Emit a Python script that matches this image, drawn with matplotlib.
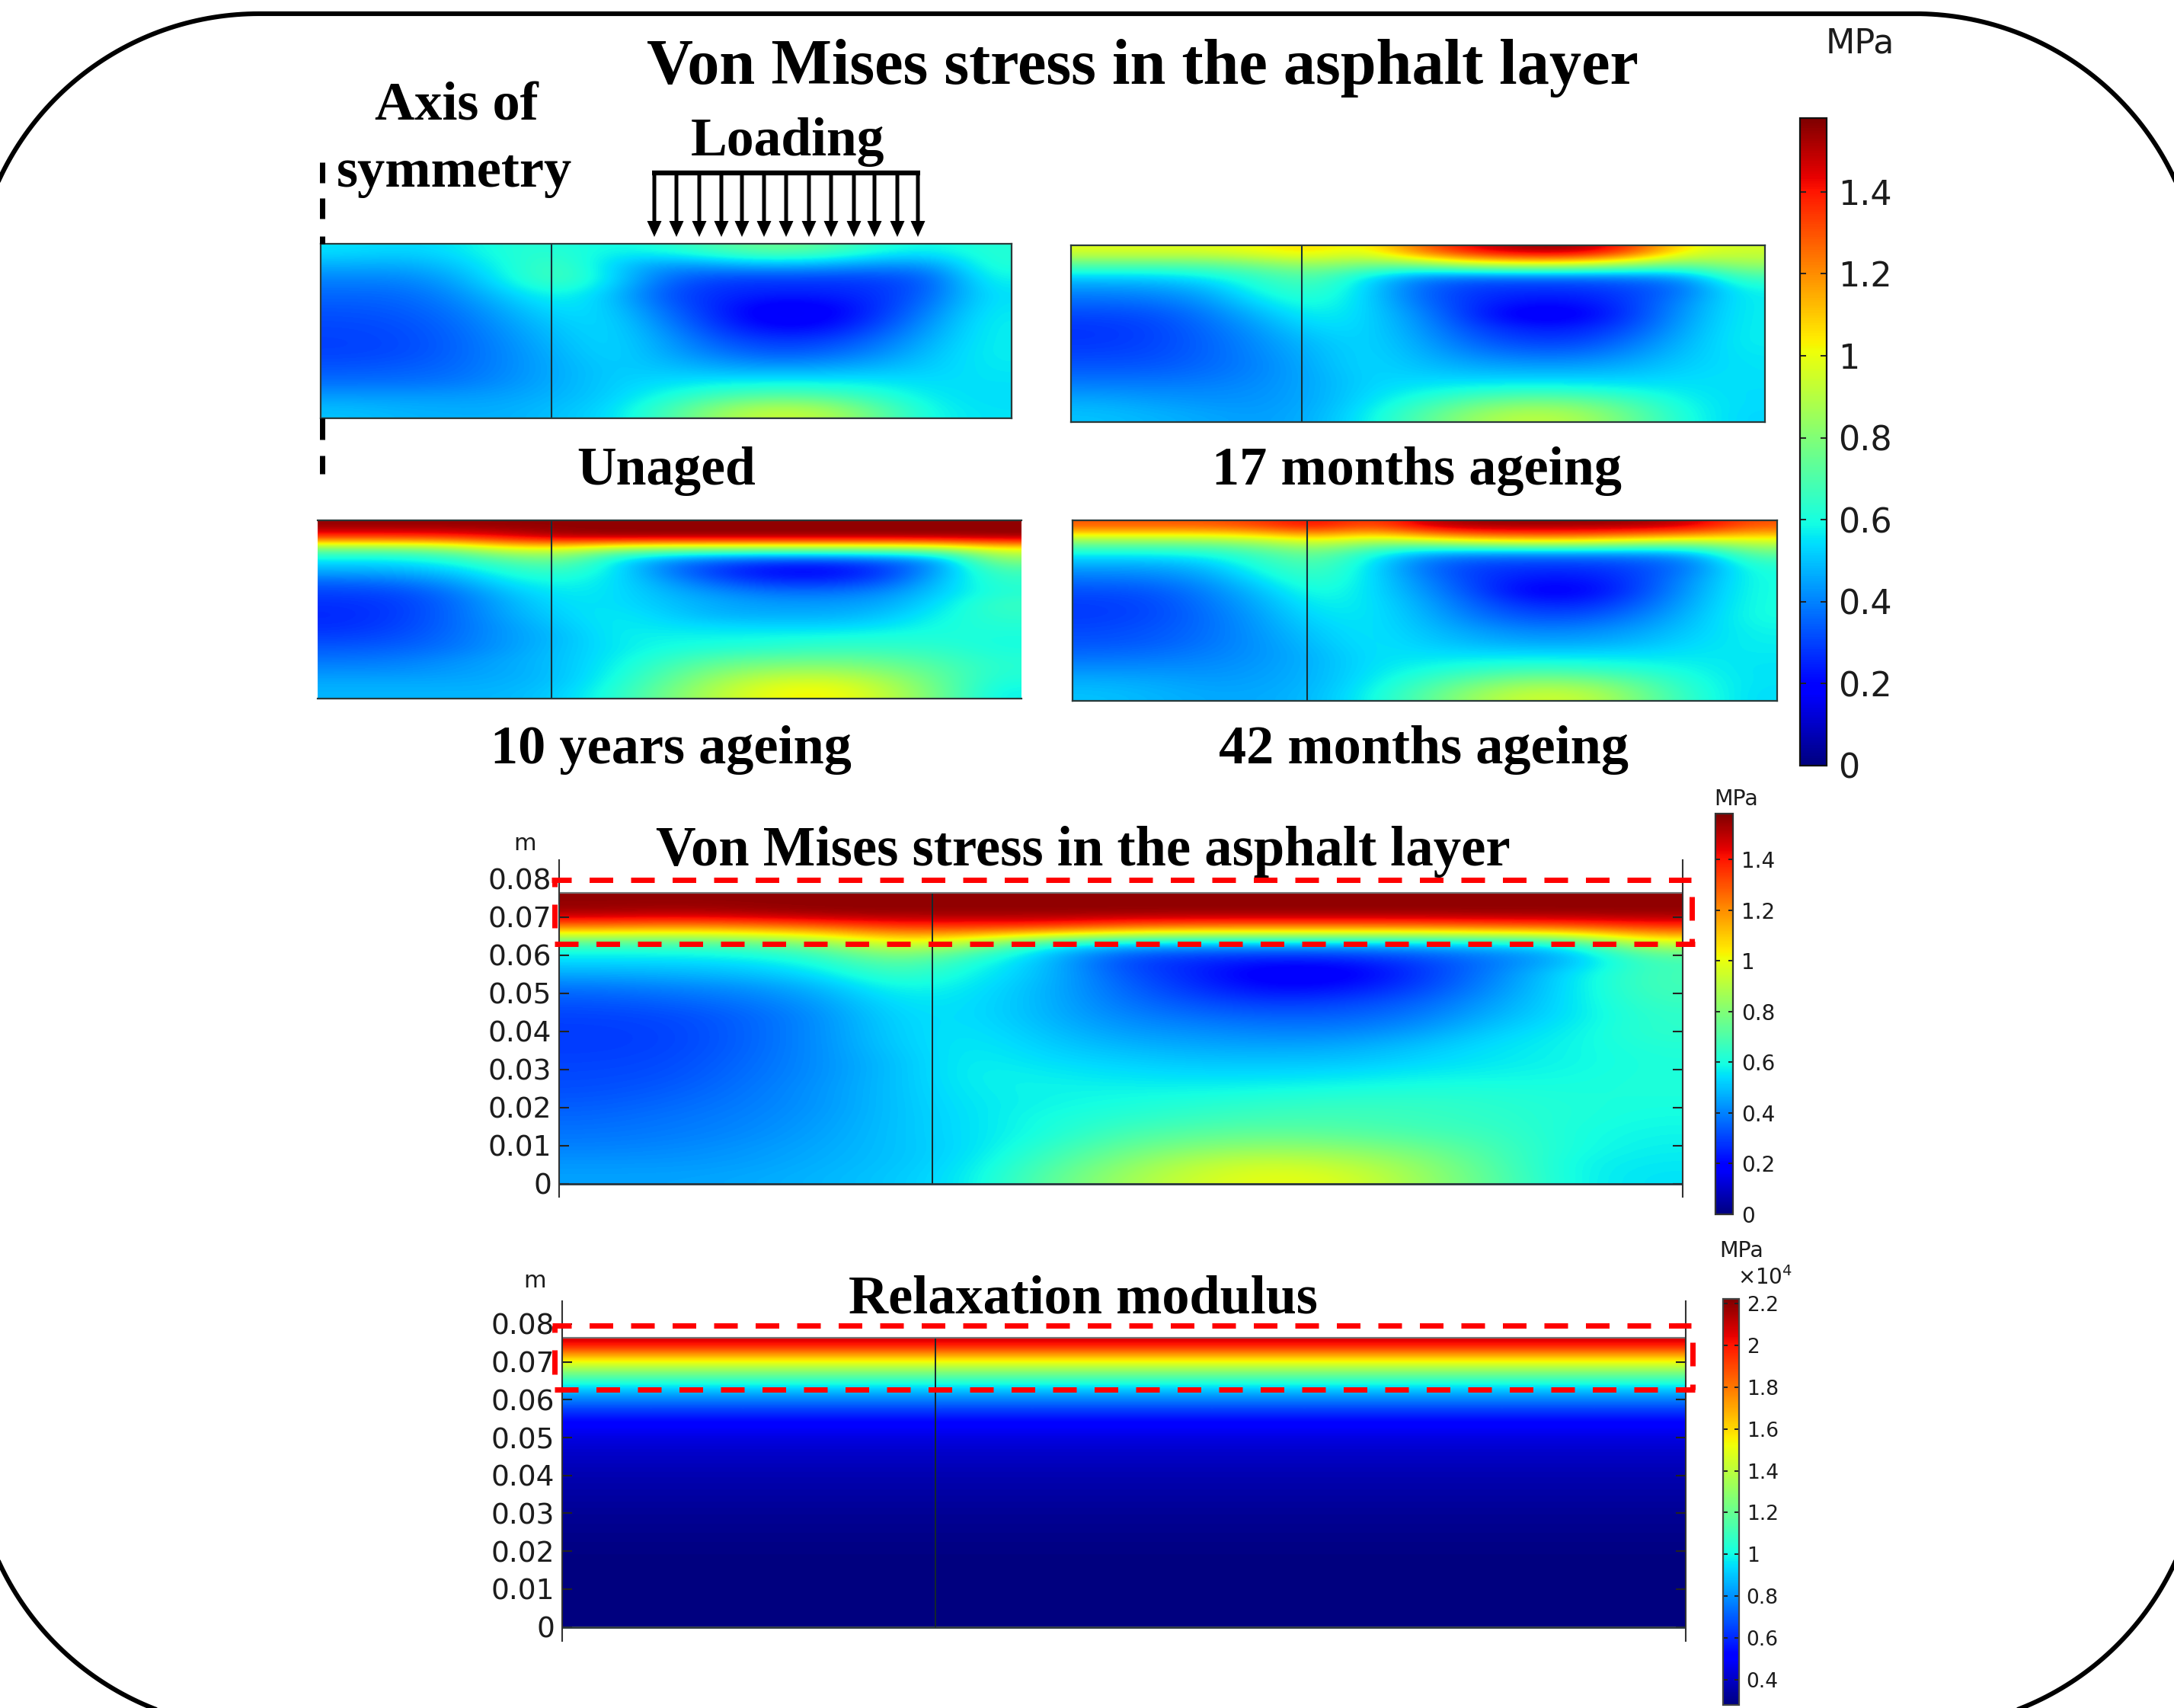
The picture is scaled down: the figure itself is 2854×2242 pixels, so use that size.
import numpy as np
import matplotlib
matplotlib.use("Agg")
import matplotlib.pyplot as plt
from matplotlib.cm import ScalarMappable
from matplotlib.colors import Normalize

W, H = 2854, 2242

# stress fields, MPa, top row first
unaged = [
    [.55, .53, .55, .62, .62, .58, .62, .70, .76, .72, .62, .58, .62],
    [.47, .46, .50, .60, .68, .52, .42, .45, .48, .46, .42, .42, .62],
    [.40, .40, .45, .58, .70, .54, .36, .29, .28, .28, .29, .34, .58],
    [.36, .36, .41, .52, .60, .50, .32, .26, .25, .25, .27, .36, .55],
    [.33, .34, .38, .47, .56, .52, .36, .25, .15, .17, .27, .40, .56],
    [.31, .32, .36, .44, .52, .54, .40, .27, .17, .19, .30, .44, .57],
    [.30, .31, .35, .42, .50, .54, .44, .32, .27, .28, .36, .47, .57],
    [.30, .31, .35, .41, .48, .54, .46, .38, .33, .35, .41, .50, .57],
    [.33, .34, .36, .41, .47, .52, .50, .46, .44, .45, .48, .52, .56],
    [.37, .37, .38, .42, .47, .52, .54, .56, .57, .57, .56, .54, .55],
    [.44, .44, .44, .45, .48, .52, .60, .68, .72, .70, .63, .56, .54],
    [.50, .48, .47, .47, .50, .54, .68, .85, .94, .90, .74, .58, .55],
]
months17 = [
    [.98, .98, .98, 1.02, 1.08, .98, 1.25, 1.45, 1.55, 1.55, 1.35, 1.02, .95],
    [.72, .72, .72, .78, .85, .78, .80, .92, .96, .94, .85, .76, .85],
    [.52, .52, .56, .64, .72, .56, .40, .36, .36, .36, .38, .42, .68],
    [.42, .43, .47, .60, .66, .54, .36, .28, .27, .27, .30, .37, .58],
    [.36, .37, .42, .54, .62, .54, .38, .27, .22, .22, .29, .42, .57],
    [.31, .32, .38, .48, .58, .54, .42, .27, .15, .17, .29, .44, .57],
    [.28, .30, .36, .44, .54, .54, .44, .31, .24, .24, .32, .46, .57],
    [.28, .30, .35, .42, .50, .54, .46, .35, .29, .29, .37, .48, .57],
    [.30, .31, .35, .41, .48, .54, .48, .40, .36, .36, .42, .50, .56],
    [.33, .33, .36, .40, .47, .54, .50, .46, .44, .44, .47, .52, .55],
    [.37, .37, .38, .41, .46, .53, .53, .52, .52, .52, .52, .54, .55],
    [.42, .41, .41, .42, .46, .53, .57, .61, .63, .62, .59, .56, .54],
    [.47, .45, .43, .43, .46, .54, .64, .74, .80, .78, .69, .58, .54],
    [.50, .48, .46, .44, .47, .56, .70, .84, .92, .88, .75, .60, .53],
]
months42 = [
    [1.30, 1.30, 1.30, 1.35, 1.45, 1.30, 1.50, 1.56, 1.56, 1.56, 1.55, 1.48, 1.30],
    [.85, .85, .85, .90, 1.00, .90, .98, 1.08, 1.12, 1.10, 1.02, .98, .98],
    [.58, .58, .60, .68, .78, .60, .45, .42, .42, .42, .42, .46, .75],
    [.46, .46, .50, .62, .70, .55, .36, .29, .28, .28, .31, .39, .62],
    [.38, .39, .44, .56, .66, .55, .40, .28, .23, .23, .30, .44, .60],
    [.32, .33, .40, .50, .62, .55, .43, .30, .17, .19, .31, .46, .60],
    [.29, .31, .38, .47, .58, .56, .46, .34, .26, .26, .35, .48, .60],
    [.29, .31, .37, .45, .55, .56, .48, .38, .32, .33, .40, .50, .60],
    [.31, .33, .37, .44, .52, .56, .50, .44, .40, .41, .45, .52, .58],
    [.33, .34, .38, .43, .50, .56, .52, .48, .46, .46, .49, .54, .57],
    [.37, .38, .40, .43, .48, .55, .55, .55, .55, .55, .55, .56, .56],
    [.42, .42, .42, .44, .48, .55, .59, .63, .66, .64, .61, .58, .55],
    [.47, .46, .44, .45, .48, .56, .66, .76, .82, .80, .71, .60, .55],
    [.50, .48, .46, .46, .49, .58, .72, .86, .95, .92, .77, .62, .54],
]
years10 = [
    [1.555, 1.555, 1.555, 1.555, 1.555, 1.555, 1.555, 1.555, 1.555, 1.555, 1.555, 1.555, 1.555],
    [1.36, 1.36, 1.38, 1.45, 1.53, 1.555, 1.555, 1.555, 1.555, 1.555, 1.555, 1.555, 1.555],
    [.78, .78, .82, .98, .98, .85, .82, .82, .82, .82, .82, .85, 1.00],
    [.56, .56, .62, .72, .78, .56, .42, .36, .33, .33, .36, .44, .82],
    [.47, .48, .52, .62, .66, .56, .38, .26, .19, .19, .28, .46, .68],
    [.36, .38, .44, .56, .60, .55, .44, .33, .27, .27, .33, .50, .64],
    [.30, .31, .38, .50, .57, .55, .48, .42, .38, .38, .42, .52, .62],
    [.27, .29, .36, .47, .55, .55, .50, .46, .44, .44, .46, .55, .66],
    [.26, .29, .36, .46, .53, .57, .52, .47, .47, .47, .50, .58, .64],
    [.27, .30, .36, .44, .51, .57, .55, .54, .53, .53, .55, .60, .62],
    [.30, .32, .37, .44, .49, .57, .58, .58, .59, .60, .61, .61, .60],
    [.34, .35, .38, .44, .50, .56, .60, .62, .64, .66, .65, .64, .60],
    [.38, .39, .42, .46, .50, .57, .65, .72, .74, .75, .73, .68, .62],
    [.42, .42, .44, .46, .50, .58, .70, .80, .85, .86, .80, .72, .62],
    [.46, .46, .46, .47, .50, .60, .74, .88, .96, .97, .88, .74, .60],
    [.48, .48, .48, .48, .52, .62, .78, .92, 1.02, 1.03, .92, .76, .57],
]
stress_large = [
    [1.555, 1.555, 1.555, 1.555, 1.555, 1.555, 1.555, 1.555, 1.555, 1.555, 1.555, 1.555, 1.555, 1.555, 1.555],
    [1.53, 1.51, 1.53, 1.555, 1.555, 1.555, 1.555, 1.555, 1.555, 1.555, 1.555, 1.555, 1.555, 1.555, 1.555],
    [1.15, 1.12, 1.14, 1.20, 1.30, 1.30, 1.30, 1.20, 1.16, 1.16, 1.16, 1.16, 1.20, 1.22, 1.30],
    [.66, .66, .70, .78, .98, .86, .56, .48, .46, .46, .46, .48, .50, .56, .92],
    [.55, .55, .56, .62, .78, .62, .50, .30, .26, .24, .25, .30, .38, .46, .68],
    [.47, .48, .50, .55, .68, .58, .50, .33, .25, .15, .16, .28, .40, .55, .68],
    [.38, .40, .42, .48, .60, .56, .48, .36, .27, .20, .22, .30, .42, .55, .68],
    [.33, .35, .38, .44, .56, .55, .48, .38, .32, .28, .30, .35, .45, .55, .66],
    [.30, .31, .35, .42, .54, .55, .48, .41, .37, .35, .35, .39, .48, .55, .64],
    [.29, .30, .35, .42, .53, .56, .50, .44, .42, .40, .40, .44, .52, .57, .64],
    [.29, .30, .35, .42, .52, .57, .52, .48, .46, .45, .46, .50, .55, .58, .62],
    [.30, .31, .36, .42, .50, .58, .54, .52, .50, .50, .50, .53, .56, .58, .61],
    [.31, .32, .37, .42, .50, .58, .57, .55, .54, .54, .55, .57, .58, .59, .61],
    [.32, .34, .38, .43, .50, .57, .58, .58, .58, .59, .60, .61, .61, .60, .61],
    [.34, .36, .39, .43, .50, .56, .58, .60, .62, .64, .65, .65, .63, .61, .60],
    [.36, .38, .40, .44, .50, .55, .60, .63, .66, .68, .68, .66, .64, .61, .59],
    [.38, .39, .41, .45, .50, .55, .60, .68, .72, .74, .72, .69, .66, .60, .58],
    [.40, .41, .43, .46, .50, .54, .64, .74, .80, .83, .81, .76, .68, .60, .57],
    [.43, .43, .44, .47, .50, .55, .68, .80, .90, .94, .90, .82, .70, .58, .56],
    [.45, .45, .46, .48, .51, .56, .72, .85, .95, 1.00, .97, .85, .72, .58, .55],
]
# relaxation modulus, x10^4 MPa, one value per layer from the top down
modulus_rows = [2.08, 1.70, 1.38, 1.10, .87, .72, .57, .49, .44, .41, .385, .365,
                .35, .335, .32, .31, .30, .29, .285, .285, .28, .28, .28, .28]

depth_ticks = [0, .01, .02, .03, .04, .05, .06, .07, .08]
depth_labels = ['0', '0.01', '0.02', '0.03', '0.04', '0.05', '0.06', '0.07', '0.08']
stress_ticks = [0, .2, .4, .6, .8, 1, 1.2, 1.4]
stress_labels = ['0', '0.2', '0.4', '0.6', '0.8', '1', '1.2', '1.4']
modulus_ticks = [.4, .6, .8, 1, 1.2, 1.4, 1.6, 1.8, 2, 2.2]
modulus_labels = ['0.4', '0.6', '0.8', '1', '1.2', '1.4', '1.6', '1.8', '2', '2.2']
stress_max = 1.58
modulus_min, modulus_max = .28, 2.222
layer_top = .0764

SERIF = 'Liberation Serif'
DARK = '#1c1c1c'

fig = plt.figure(figsize=(W / 100, H / 100), dpi=100, facecolor='white')


def px_axes(left, top, right, bottom, zorder=1):
    return fig.add_axes([left / W, 1 - bottom / H, (right - left) / W, (bottom - top) / H], zorder=zorder)


def small_panel(box, field, divider, sides=True):
    ax = px_axes(*box)
    ax.imshow(field, cmap='jet', vmin=0, vmax=stress_max, aspect='auto', extent=[0, 1, 0, 1],
              interpolation='bicubic', interpolation_stage='data')
    ax.axvline(divider, color='#14303a', lw=1.5)
    ax.set_xticks([])
    ax.set_yticks([])
    for name, sp in ax.spines.items():
        sp.set_linewidth(1.6)
        sp.set_color('#2a3a3a')
        if name in ('left', 'right') and not sides:
            sp.set_visible(False)
    return ax


def large_panel(box, field, divider, y_px0, px_per_m, vmin, vmax):
    left, top, right, bottom = box
    ax = px_axes(*box)
    ax.imshow(field, cmap='jet', vmin=vmin, vmax=vmax, aspect='auto', extent=[0, 1, 0, layer_top],
              interpolation='bicubic', interpolation_stage='data')
    ax.set_xlim(0, 1)
    ax.set_ylim((y_px0 - bottom) / px_per_m, (y_px0 - top) / px_per_m)
    ax.vlines(divider, 0, layer_top, color='#14282e', lw=1.4)
    ax.hlines(0, 0, 1, color='#28343c', lw=2)
    ax.hlines(layer_top, 0, 1, color='#777777', lw=1.5)
    for name in ('top', 'bottom'):
        ax.spines[name].set_visible(False)
    for name in ('left', 'right'):
        ax.spines[name].set_linewidth(1.5)
        ax.spines[name].set_color('#333333')
    ax.set_xticks([])
    ax.set_yticks(depth_ticks)
    ax.set_yticklabels(depth_labels)
    ax.tick_params(axis='y', direction='in', left=True, right=True, length=9.5, width=1.5,
                   color='#222222', pad=7, labelsize=27, labelcolor=DARK)
    return ax


def color_bar(box, vmin, vmax, ticks, labels, size, pad, tick_len, edge):
    cax = px_axes(*box)
    cb = fig.colorbar(ScalarMappable(Normalize(vmin, vmax), 'jet'), cax=cax, ticks=ticks)
    cb.ax.set_yticklabels(labels)
    cb.ax.minorticks_off()
    cb.ax.tick_params(direction='in', left=True, right=True, length=tick_len, width=1.4, color='#222222',
                      pad=pad, labelsize=size, labelcolor=DARK, labelleft=False, labelright=True)
    cb.outline.set_linewidth(1.6)
    cb.outline.set_edgecolor(edge)
    return cb


# four ageing states on top
small_panel((421, 320, 1328, 549), unaged, .334)
small_panel((1406, 322, 2317, 554), months17, .333)
small_panel((417, 683, 1341, 917), years10, .332, sides=False)
small_panel((1408, 683, 2333, 920), months42, .333)
color_bar((2363, 155, 2398, 1005), 0, stress_max, stress_ticks, stress_labels, 32, 11, 6, '#111111')

# detail views
large_panel((734, 1129, 2209, 1571), stress_large, .332, 1554, 5000, 0, stress_max)
color_bar((2252, 1068, 2275, 1594), 0, stress_max, stress_ticks, stress_labels, 20, 8, 4, '#333333')
modulus = np.column_stack([modulus_rows, modulus_rows])
large_panel((738, 1708, 2213, 2154), modulus, .3325, 2135.5, 4970, modulus_min, modulus_max)
color_bar((2262, 1705, 2283, 2238), modulus_min, modulus_max, modulus_ticks, modulus_labels, 19, 7, 4, '#444444')

# everything drawn in picture pixels goes on an overlay
over = fig.add_axes([0, 0, 1, 1], zorder=10)
over.set_xlim(0, W)
over.set_ylim(H, 0)
over.axis('off')
over.patch.set_alpha(0)

# outer rounded frame, runs off the canvas at the sides and the bottom
R = 376
frame_l, frame_r, frame_t, frame_b = -36, 2890, 18, 2269
corners = [(frame_l + R, frame_t + R, 180, 270), (frame_r - R, frame_t + R, 270, 360),
           (frame_r - R, frame_b - R, 0, 90), (frame_l + R, frame_b - R, 90, 180)]
fx, fy = [], []
for cx, cy, a0, a1 in corners:
    t = np.radians(np.linspace(a0, a1, 80))
    fx.extend(cx + R * np.cos(t))
    fy.extend(cy + R * np.sin(t))
over.plot(fx + fx[:1], fy + fy[:1], color='black', lw=4.4, clip_on=True)

# headings
for txt, x, y, size in [
    ('Von Mises stress in the asphalt layer', 1500, 110, 60.7),
    ('Axis of', 599, 158, 52),
    ('symmetry', 597, 245, 52),
    ('Loading', 1034, 204, 51.5),
    ('Unaged', 875, 636, 51.6),
    ('17 months ageing', 1860, 636, 52),
    ('10 years ageing', 881, 1002, 52),
    ('42 months ageing', 1869, 1002, 52),
    ('Von Mises stress in the asphalt layer', 1422, 1136, 52.3),
    ('Relaxation modulus', 1422, 1723, 52),
]:
    over.text(x, y, txt, family=SERIF, weight='bold', fontsize=size, ha='center', va='baseline', color='black')

# unit labels
for txt, x, y, size in [('MPa', 2442, 57, 32), ('MPa', 2279, 1049, 20.5), ('MPa', 2286, 1642, 20.5),
                        ('m', 689, 1108, 22), ('m', 702, 1681, 22)]:
    over.text(x, y, txt, fontsize=size, ha='center', va='center', color=DARK)
over.text(2317, 1677, r'$\times$10$^{4}$', fontsize=20, ha='center', va='center', color=DARK)

# axis of symmetry
for y0, y1 in [(213, 240), (260, 287), (310, 320), (549, 577), (598, 622)]:
    over.plot([423, 423], [y0, y1], color='black', lw=5, solid_capstyle='butt')

# loading arrows
arrow_x = [859, 888, 918, 947, 974, 1003, 1032, 1062, 1091, 1121, 1148, 1178, 1205]
over.plot([856, 1208], [227, 227], color='black', lw=4.6, solid_capstyle='butt')
for ax_x in arrow_x:
    over.arrow(ax_x, 227, 0, 84, width=5, head_width=19, head_length=21,
               length_includes_head=True, color='black', lw=0)

# red dashed boxes around the aged layer
RED_LW = 7 * .72
DASH = (31 / 7, 23.5 / 7)
for x0, x1, y, offs in [(724, 2220, 1155, 5), (728, 2225, 1239, 0), (725, 2220, 1740, 6), (728, 2225, 1824, 0)]:
    over.plot([x0, x1], [y, y], color='#fe0000', lw=RED_LW, linestyle=(offs / 7, DASH), dash_capstyle='butt')
for x, y0, y1 in [(728, 1155, 1164), (728, 1187, 1218), (2221, 1177, 1208), (2221, 1232, 1239),
                  (728, 1740, 1749), (728, 1772, 1804), (2222, 1762, 1793), (2222, 1817, 1824)]:
    over.plot([x, x], [y0, y1], color='#fe0000', lw=RED_LW, solid_capstyle='butt')

fig.savefig('out.png', dpi=100)
